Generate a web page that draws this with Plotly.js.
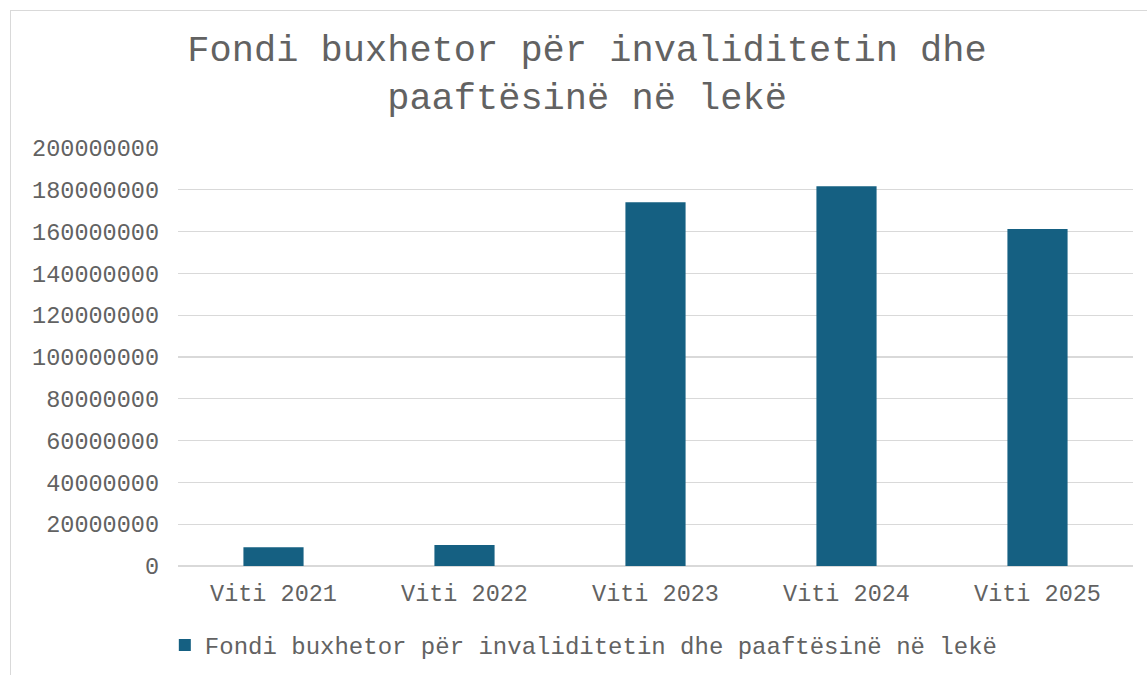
<!DOCTYPE html>
<html>
<head>
<meta charset="utf-8">
<script src="https://cdn.plot.ly/plotly-3.0.1.min.js"></script>
<style>
  html, body { margin: 0; padding: 0; background: #ffffff; overflow: hidden; }
  #chart { width: 1147px; height: 675px; position: relative; }
  #frame { position: absolute; left: 10px; top: 10px; width: 1150px; height: 680px;
           border: 1.5px solid #d9d9d9; pointer-events: none; box-sizing: border-box; }
</style>
</head>
<body>
<div id="chart"></div>
<div id="frame"></div>
<script>
const categories = ["Viti 2021", "Viti 2022", "Viti 2023", "Viti 2024", "Viti 2025"];
const values = [9000000, 10000000, 174000000, 181700000, 161200000];
const seriesName = "Fondi buxhetor për invaliditetin dhe paaftësinë në lekë";
const chartTitle = "Fondi buxhetor për invaliditetin dhe<br>paaftësinë në lekë";

const FONT = "'Liberation Mono', 'Courier New', monospace";
const TXT = "#626262";

const data = [{
  type: "bar",
  x: categories,
  y: values,
  name: seriesName,
  marker: { color: "#156082" },
  showlegend: true,
  hoverinfo: "x+y"
}];

const layout = {
  width: 1147,
  height: 675,
  paper_bgcolor: "#ffffff",
  plot_bgcolor: "#ffffff",
  margin: { l: 178, r: 14, t: 148, b: 109 },
  font: { family: FONT, color: TXT, size: 23.5 },
  title: {
    text: chartTitle,
    font: { family: FONT, color: TXT, size: 37 },
    xref: "container",
    yref: "container",
    x: 0.5118,
    xanchor: "center",
    y: 0.910,
    yanchor: "top"
  },
  bargap: 0.685,
  xaxis: {
    type: "category",
    showgrid: false,
    showline: false,
    zeroline: false,
    ticks: "",
    ticklabelstandoff: 10,
    tickfont: { family: FONT, color: TXT, size: 23.5 }
  },
  yaxis: {
    range: [0, 200000000],
    dtick: 20000000,
    tick0: 0,
    tickformat: "d",
    showgrid: true,
    gridcolor: "#d9d9d9",
    gridwidth: 1.3,
    zeroline: true,
    zerolinecolor: "#d9d9d9",
    zerolinewidth: 1.3,
    showline: false,
    ticks: "",
    ticklabelstandoff: 18,
    tickfont: { family: FONT, color: TXT, size: 23.5 }
  },
  showlegend: true,
  legend: {
    orientation: "h",
    xref: "container",
    yref: "container",
    x: 0.509,
    xanchor: "center",
    y: 0.044,
    yanchor: "middle",
    font: { family: FONT, color: TXT, size: 24 },
    bgcolor: "rgba(0,0,0,0)"
  }
};

Plotly.newPlot("chart", data, layout, { displayModeBar: false, staticPlot: true });
</script>
</body>
</html>
